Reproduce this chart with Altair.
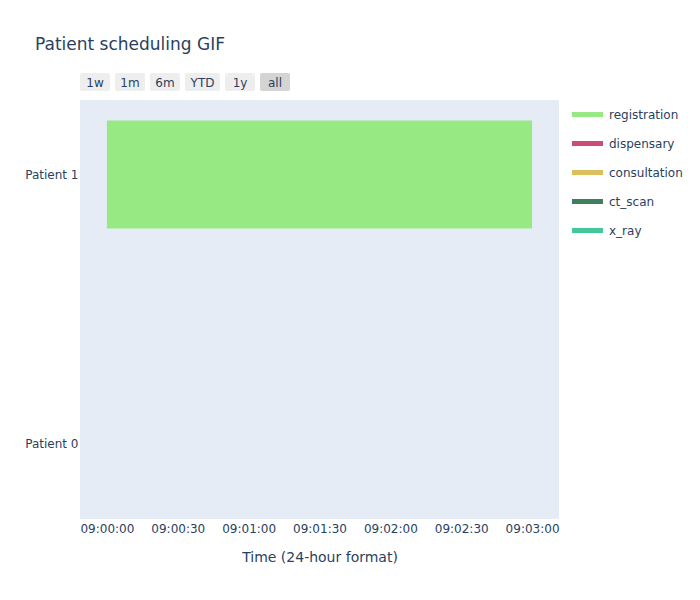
import altair as alt
import pandas as pd

# ---- data ----
patients = ["Patient 1", "Patient 0"]          # top to bottom
task_names = ["registration"]
task_patients = ["Patient 1"]
task_starts = ["2024-01-01T09:00:00"]
task_ends = ["2024-01-01T09:03:00"]

legend_tasks = ["registration", "dispensary", "consultation", "ct_scan", "x_ray"]
legend_colors = ["#97E983", "#CD4B7B", "#DCC05D", "#3E7F5D", "#44C79D"]

tick_seconds = [0, 30, 60, 90, 120, 150, 180]

button_labels = ["1w", "1m", "6m", "YTD", "1y", "all"]
button_widths = [30, 30, 30, 35, 30, 30]

FONT = "DejaVu Sans"
TXT = "#2a3f5f"

df = pd.DataFrame({
    "Task": task_names,
    "Patient": task_patients,
    "Start": task_starts,
    "End": task_ends,
})

# button layout (pixels, relative to plot left)
xs, x0 = [], 0
for w in button_widths:
    xs.append((x0, x0 + w))
    x0 += w + 5
btn = pd.DataFrame({
    "label": button_labels,
    "x0": [a for a, b in xs],
    "x1": [b for a, b in xs],
    "xc": [(a + b) / 2 for a, b in xs],
})

tick_vals = [alt.DateTime(year=2024, month=1, date=1, hours=9,
                          minutes=s // 60, seconds=s % 60) for s in tick_seconds]
dom = [alt.DateTime(year=2024, month=1, date=1, hours=8, minutes=59, seconds=48, milliseconds=600),
       alt.DateTime(year=2024, month=1, date=1, hours=9, minutes=3, seconds=11, milliseconds=400)]

bars = alt.Chart(df).mark_bar(clip=True).encode(
    x=alt.X("Start:T", scale=alt.Scale(domain=dom),
            axis=alt.Axis(title="Time (24-hour format)", values=tick_vals,
                          format="%H:%M:%S", grid=False, ticks=False, domain=False,
                          labelPadding=4, labelFontSize=12, labelColor=TXT,
                          labelFont=FONT, titleFont=FONT, titleFontSize=14,
                          titleColor=TXT, titleFontWeight="normal", titlePadding=16,
                          labelFlush=False)),
    x2="End:T",
    y=alt.Y("Patient:N", scale=alt.Scale(domain=patients, paddingInner=0.6, paddingOuter=0.076),
            axis=alt.Axis(title=None, grid=False, ticks=False, domain=False,
                          labelPadding=2, labelFontSize=12, labelColor=TXT, labelFont=FONT)),
    color=alt.Color("Task:N", scale=alt.Scale(domain=legend_tasks, range=legend_colors),
                    legend=alt.Legend(title=None, orient="none", legendX=493, legendY=0,
                                      symbolType="M-1.07,-0.17H1.07V0.17H-1.07Z",
                                      symbolSize=841, symbolStrokeWidth=0, rowPadding=8,
                                      labelFont=FONT, labelFontSize=12, labelColor=TXT,
                                      labelOffset=7)),
)

btn_rect = alt.Chart(btn).mark_rect(cornerRadius=2, clip=False).encode(
    x=alt.X("x0:Q", scale=None),
    x2="x1:Q",
    y=alt.value(-27),
    y2=alt.value(-9),
    color=alt.condition(alt.datum.label == "all", alt.value("#d4d4d4"), alt.value("#eeeeee")),
)
btn_text = alt.Chart(btn).mark_text(font=FONT, fontSize=12, color=TXT, clip=False).encode(
    x=alt.X("xc:Q", scale=None),
    y=alt.value(-17),
    text="label:N",
)

chart = alt.layer(bars, btn_rect, btn_text).resolve_scale(x="independent").properties(
    width=479,
    height=419,
    background="white",
    autosize=alt.AutoSizeParams(type="none"),
    padding={"left": 80, "top": 100, "right": 141, "bottom": 81},
    title=alt.TitleParams("Patient scheduling GIF", anchor="start", dx=-45,
                          font=FONT, fontSize=17, color=TXT, fontWeight="normal",
                          frame="group", offset=19),
).configure_view(fill="#e5ecf6", strokeWidth=0)

chart.save("out.html", embed_options={"renderer": "svg", "actions": False})
